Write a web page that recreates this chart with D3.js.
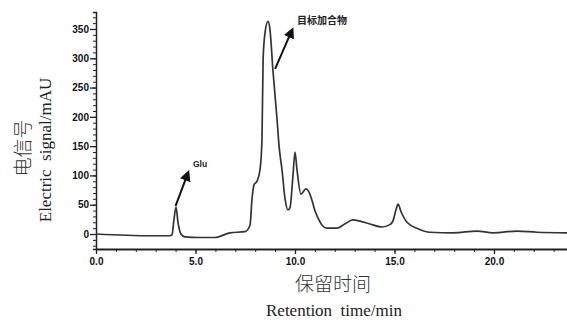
<!DOCTYPE html>
<meta charset="utf-8">
<head>
  <script src="https://d3js.org/d3.v7.min.js"></script>
  <style>
    body { margin: 0; background: #fff; }
    .axis text { font-family: "Liberation Sans", Arial, sans-serif; font-weight: bold; font-size: 10px; fill: #111; }
    .axis line, .axis path { stroke: #222; }
    .title { font-family: "Liberation Serif", "Times New Roman", serif; fill: #222; }
    .cjk { font-family: "Noto Sans CJK SC", sans-serif; font-weight: 300; fill: #333; }
    .note { font-family: "Liberation Sans", "Noto Sans CJK SC", sans-serif; font-weight: bold; fill: #222; }
  </style>
</head>
<body>
<div id="chart"></div>
<script>

// retention time (min) and signal (mAU)
var time = [0, 2.7, 3.72, 3.82, 3.92, 4.02, 4.12, 4.27, 4.47, 5.2, 5.98, 6.73, 7.49, 7.74, 7.84, 7.94, 8.09, 8.24,
  8.34, 8.4, 8.5, 8.64, 8.74, 8.89, 9.1, 9.2, 9.35, 9.5, 9.65, 9.75, 9.9, 10.0, 10.1, 10.3, 10.55, 10.7, 10.85,
  11.0, 11.16, 11.36, 11.6, 12.1, 12.5, 12.9, 13.27, 13.77, 14.37, 14.77, 14.92, 15.08, 15.18, 15.33, 15.63,
  16.18, 16.78, 17.94, 19.15, 19.95, 21.16, 22.16, 23.67];
var signal = [0, -3, -3, -1, 25, 46, 20, 0, -5, -6, -6, 2, 4, 15, 60, 84, 90, 109,
  160, 300, 345, 363, 350, 280, 195, 150, 109, 60, 41, 45, 100, 140, 110, 68, 77, 72, 58,
  40, 27, 15, 10, 10, 17, 24, 22, 17, 12, 16, 22, 42, 51, 38, 20,
  9, 3, 2, 5, 2, 5, 3, 2];

var yTicks = [0, 50, 100, 150, 200, 250, 300, 350];
var xTicks = [0, 5, 10, 15, 20];

// annotations: [arrow start x, y, arrow tip x, y, label]
var notes = [
  [4.0, 48, 4.62, 104, "Glu"],
  [9.0, 282, 9.85, 348, "目标加合物"]
];

var W = 567, H = 320;
var svg = d3.select("#chart").append("svg")
  .attr("width", W).attr("height", H);

var x = d3.scaleLinear().domain([0, 23.67]).range([96, 567]);
var y = d3.scaleLinear().domain([-25.6, 379]).range([249, 12]);

svg.append("defs").append("marker")
  .attr("id", "arrow")
  .attr("viewBox", "0 0 10 10")
  .attr("refX", 7).attr("refY", 5)
  .attr("markerWidth", 5.5).attr("markerHeight", 5.5)
  .attr("orient", "auto")
  .append("path").attr("d", "M0,0L10,5L0,10Z").attr("fill", "#111");

// y axis with minor ticks
svg.append("g").attr("class", "axis")
  .attr("transform", "translate(96,0)")
  .call(d3.axisLeft(y).tickValues(d3.range(-20, 371, 10)).tickSize(3).tickFormat(""))
  .select(".domain").attr("stroke-width", 1.5);
svg.append("g").attr("class", "axis")
  .attr("transform", "translate(96,0)")
  .call(d3.axisLeft(y).tickValues(yTicks).tickSize(6).tickPadding(1).tickFormat(d3.format("d")))
  .call(g => g.select(".domain").remove())
  .selectAll("line").attr("stroke-width", 1.3);

// x axis with minor ticks
svg.append("g").attr("class", "axis")
  .attr("transform", "translate(0,249)")
  .call(d3.axisBottom(x).tickValues(d3.range(0, 24, 1)).tickSize(3).tickFormat("").tickSizeOuter(0))
  .select(".domain").attr("stroke-width", 2);
svg.append("g").attr("class", "axis")
  .attr("transform", "translate(0,249)")
  .call(d3.axisBottom(x).tickValues(xTicks).tickSize(5).tickPadding(4).tickFormat(d3.format(".1f")))
  .call(g => g.select(".domain").remove())
  .selectAll("line").attr("stroke-width", 1.3);

// chromatogram
var pts = time.map(function (t, i) { return [t, signal[i]]; });
svg.append("path")
  .datum(pts)
  .attr("fill", "none")
  .attr("stroke", "#333")
  .attr("stroke-width", 1.7)
  .attr("d", d3.line()
    .curve(d3.curveMonotoneX)
    .x(function (d) { return x(d[0]); })
    .y(function (d) { return y(d[1]); }));

// arrows and labels
notes.forEach(function (n) {
  svg.append("line")
    .attr("x1", x(n[0])).attr("y1", y(n[1]))
    .attr("x2", x(n[2])).attr("y2", y(n[3]))
    .attr("stroke", "#111").attr("stroke-width", 2)
    .attr("marker-end", "url(#arrow)");
  svg.append("text").attr("class", "note")
    .attr("x", x(n[2]) + 5).attr("y", y(n[3]) - 6)
    .attr("font-size", n[4] === "Glu" ? 8.5 : 10)
    .text(n[4]);
});

// axis titles
svg.append("text").attr("class", "cjk")
  .attr("transform", "translate(30,148) rotate(-90)")
  .attr("text-anchor", "middle").attr("font-size", 19)
  .text("电信号");
svg.append("text").attr("class", "title")
  .attr("transform", "translate(51,150) rotate(-90)")
  .attr("text-anchor", "middle").attr("font-size", 17)
  .attr("xml:space", "preserve")
  .text("Electric  signal/mAU");
svg.append("text").attr("class", "cjk")
  .attr("x", 333).attr("y", 291)
  .attr("text-anchor", "middle").attr("font-size", 19)
  .text("保留时间");
svg.append("text").attr("class", "title")
  .attr("x", 334).attr("y", 316)
  .attr("text-anchor", "middle").attr("font-size", 17)
  .attr("xml:space", "preserve")
  .text("Retention  time/min");

</script>
</body>
